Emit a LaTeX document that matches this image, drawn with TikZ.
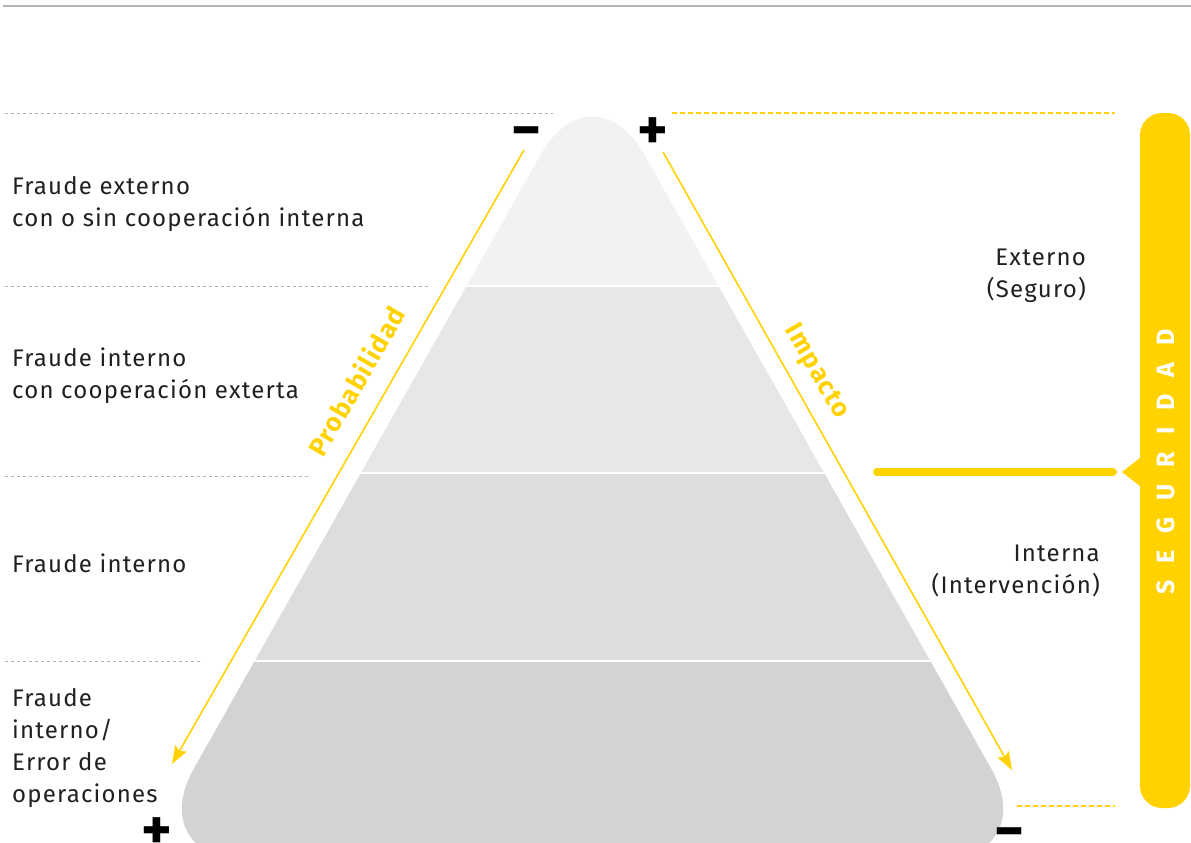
\documentclass[tikz,border=0pt]{standalone}
\usepackage{fontspec}
\setmainfont{Fira Sans}[LetterSpace=5]
\usetikzlibrary{arrows.meta}

\definecolor{amarillo}{HTML}{FFD200}
\definecolor{grisguia}{HTML}{B3B3B3}
\definecolor{nivelA}{HTML}{F1F2F2}
\definecolor{nivelB}{HTML}{E6E7E8}
\definecolor{nivelC}{HTML}{DCDDDE}
\definecolor{nivelD}{HTML}{D1D3D4}
\definecolor{texto}{HTML}{231F20}

\newcommand{\pyramidpath}{(592.5,860) -- (142.2,860) -- (592.5,63) -- (1042.8,860) -- cycle}

\tikzset{
  etiqueta/.style={inner sep=0pt, align=left, anchor=west, text=texto,
    font=\fontsize{24}{32}\selectfont},
  etiquetader/.style={etiqueta, align=right, anchor=east},
  eje/.style={amarillo, line width=1.6pt, -{Stealth[length=18pt,width=13pt,inset=3pt]}},
  ejetexto/.style={inner sep=0pt, text=amarillo, font=\fontsize{26}{26}\selectfont\bfseries},
  signo/.style={inner sep=0pt, text height=20pt, text depth=0pt, text=black,
    font=\fontsize{58}{58}\selectfont\bfseries},
  guia/.style={grisguia, line width=0.8pt, dash pattern=on 3pt off 3pt},
  guiaamarilla/.style={amarillo, line width=1.6pt, dash pattern=on 5pt off 3pt}
}

\begin{document}
\begin{tikzpicture}[x=1pt,y=-1pt]
  \useasboundingbox (0,0) rectangle (1191,843);

  % Top rule
  \draw [grisguia, line width=1.6pt] (3,6) -- (1191,6);

  % Pyramid levels
  \begin{scope}
    \clip [rounded corners=105pt] \pyramidpath;
    \fill [nivelA] (100,0) rectangle (1100,286);
    \fill [nivelB] (100,286) rectangle (1100,473);
    \fill [nivelC] (100,473) rectangle (1100,661);
    \fill [nivelD] (100,661) rectangle (1100,900);
    \draw [white, line width=2.5pt] (100,286) -- (1100,286);
    \draw [white, line width=2.5pt] (100,473) -- (1100,473);
    \draw [white, line width=2.5pt] (100,661) -- (1100,661);
  \end{scope}

  % Guide lines on the left
  \draw [guia] (5,113) -- (553,113);
  \draw [guia] (5,286) -- (428,286);
  \draw [guia] (5,476) -- (310,476);
  \draw [guia] (5,661) -- (203,661);

  % Guide lines on the right
  \draw [guiaamarilla] (672,113) -- (1115,113);
  \draw [guiaamarilla] (1017,806) -- (1115,806);

  % Level labels
  \node [etiqueta] (externo) at (12,204) {Fraude externo\\con o sin cooperación interna};
  \node [etiqueta] (cooperacion) at (12,376) {Fraude interno\\con cooperación exterta};
  \node [etiqueta] (interno) at (12,563) {Fraude interno};
  \node [etiqueta] (operaciones) at (12,748) {Fraude\\interno/\\Error de\\operaciones};

  % Signs
  \node [signo] (menosA) at (527,139) {−};
  \node [signo] (masA) at (653,139) {+};
  \node [signo] (masB) at (157,839) {+};
  \node [signo] (menosB) at (1010,840) {−};

  % Axes
  \coordinate (probIni) at (524,150);
  \coordinate (probFin) at (172,764);
  \coordinate (impIni) at (663,152);
  \coordinate (impFin) at (1012,770);
  \draw [eje] (probIni) -- (probFin);
  \draw [eje] (impIni) -- (impFin);
  \node [ejetexto, rotate=60] (probabilidad) at (356,381) {Probabilidad};
  \node [ejetexto, rotate=-60] (impacto) at (816,372) {Impacto};

  % Security bar
  \fill [amarillo, rounded corners=22pt] (1140,113) rectangle (1190,808);
  \fill [amarillo] (1141,457) -- (1122,472) -- (1141,487) -- cycle;
  \draw [amarillo, line width=8pt, line cap=round] (877,472) -- (1113,472);
  \node [inner sep=0pt, text=white, rotate=90,
    font=\fontsize{25}{25}\selectfont\bfseries] (seguridad) at (1166,462)
    {\spaceskip=17pt\relax S E G U R I D A D};

  % Security labels
  \node [etiquetader] (seguro) at (1086,276) {Externo\\(Seguro)};
  \node [etiquetader] (intervencion) at (1100,571) {Interna\\(Intervención)};
\end{tikzpicture}
\end{document}
